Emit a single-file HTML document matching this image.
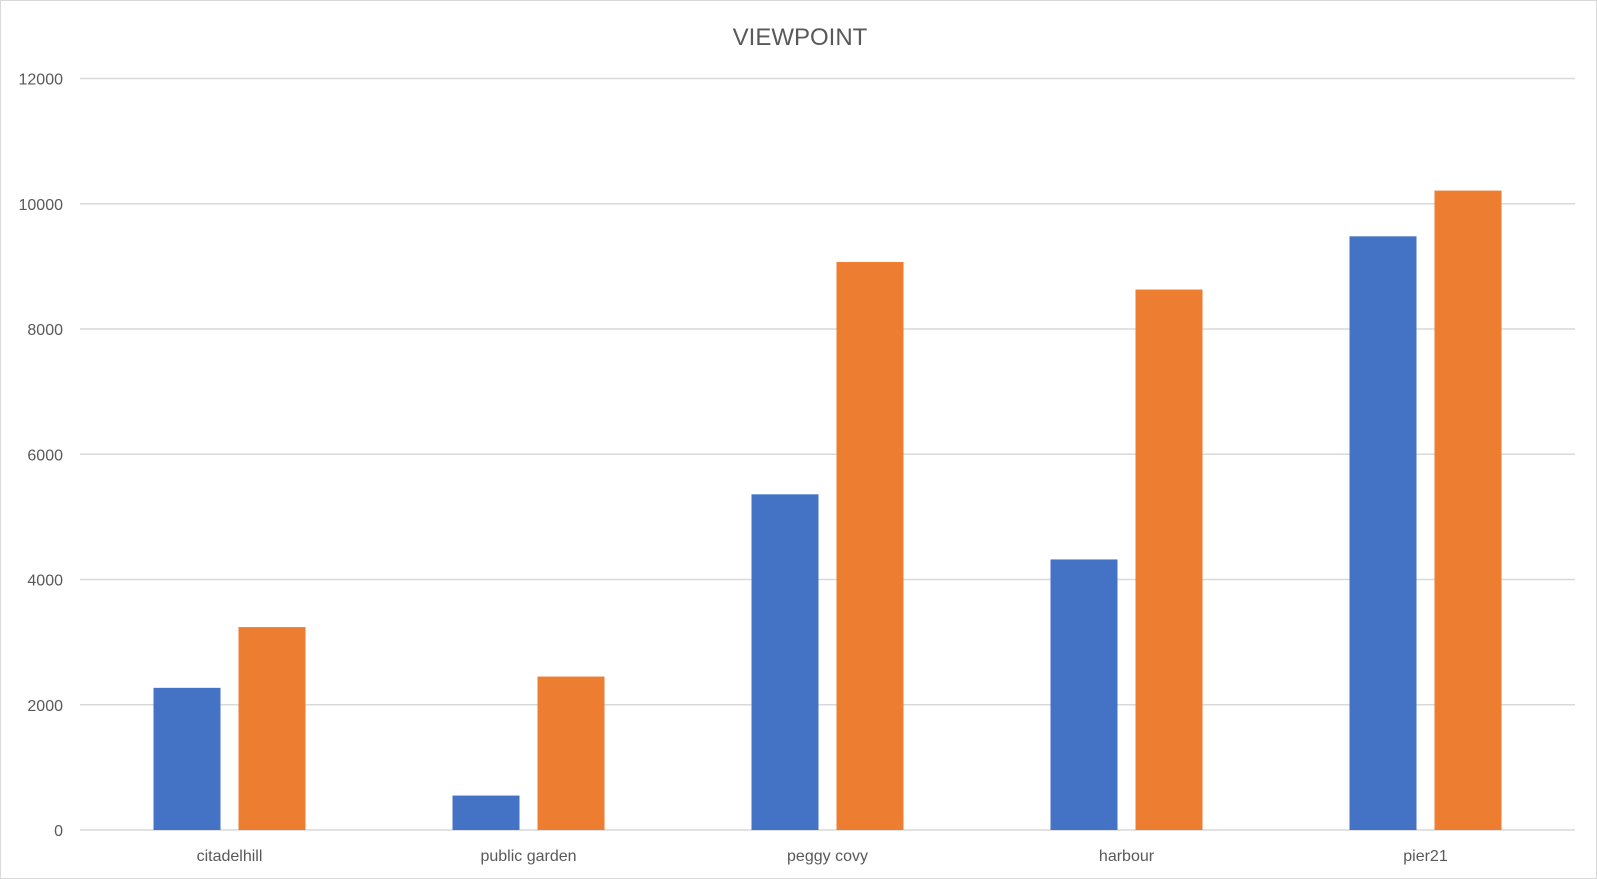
<!DOCTYPE html>
<html><head><meta charset="utf-8"><style>
html,body{margin:0;padding:0;background:#fff;}
svg{display:block;font-family:"Liberation Sans",sans-serif;}
</style></head><body>
<svg id="chart" width="1597" height="879">
<rect x="0.5" y="0.5" width="1596" height="878" fill="#fff" stroke="#d9d9d9"/>
<text x="800" y="45" text-anchor="middle" font-size="24" fill="#595959">VIEWPOINT</text>
<g id="grid"></g><g id="bars"></g><g id="labels"></g>
</svg>
<script>
const categories = ["citadelhill","public garden","peggy covy","harbour","pier21"];
const series1 = [2270, 550, 5360, 4320, 9480];
const series2 = [3240, 2450, 9070, 8630, 10210];
const yTicks = [0,2000,4000,6000,8000,10000,12000];
const NS="http://www.w3.org/2000/svg";
const L=80,R=1575,B=830,T=78.5,yMax=12000;
function y(v){return B-(v/yMax)*(B-T);}
function xCat(i){return L+(R-L)/categories.length*(i+0.5);}
function mk(tag,attrs,parent){const e=document.createElementNS(NS,tag);for(const k in attrs)e.setAttribute(k,attrs[k]);document.getElementById(parent).appendChild(e);return e;}
yTicks.forEach(t=>{
  const l=mk("line",{x1:L,x2:R,y1:y(t),y2:y(t),stroke:"#d9d9d9","stroke-width":1.5},"grid");
  
  
  const tx=mk("text",{x:63,y:y(t)+6,"text-anchor":"end","font-size":16,fill:"#595959"},"labels");
  tx.textContent=t;
  
  
});
const bw=67,gap=18;
categories.forEach((c,i)=>{
  const cx=xCat(i);
  const b1=mk("rect",{x:cx-gap/2-bw,y:y(series1[i]),width:bw,height:B-y(series1[i]),fill:"#4472c4"},"bars");
  
  
  const b2=mk("rect",{x:cx+gap/2,y:y(series2[i]),width:bw,height:B-y(series2[i]),fill:"#ed7d31"},"bars");
  
  
  const tx=mk("text",{x:cx,y:861,"text-anchor":"middle","font-size":16,fill:"#595959"},"labels");
  tx.textContent=c;
  
  
});
</script>
</body></html>
